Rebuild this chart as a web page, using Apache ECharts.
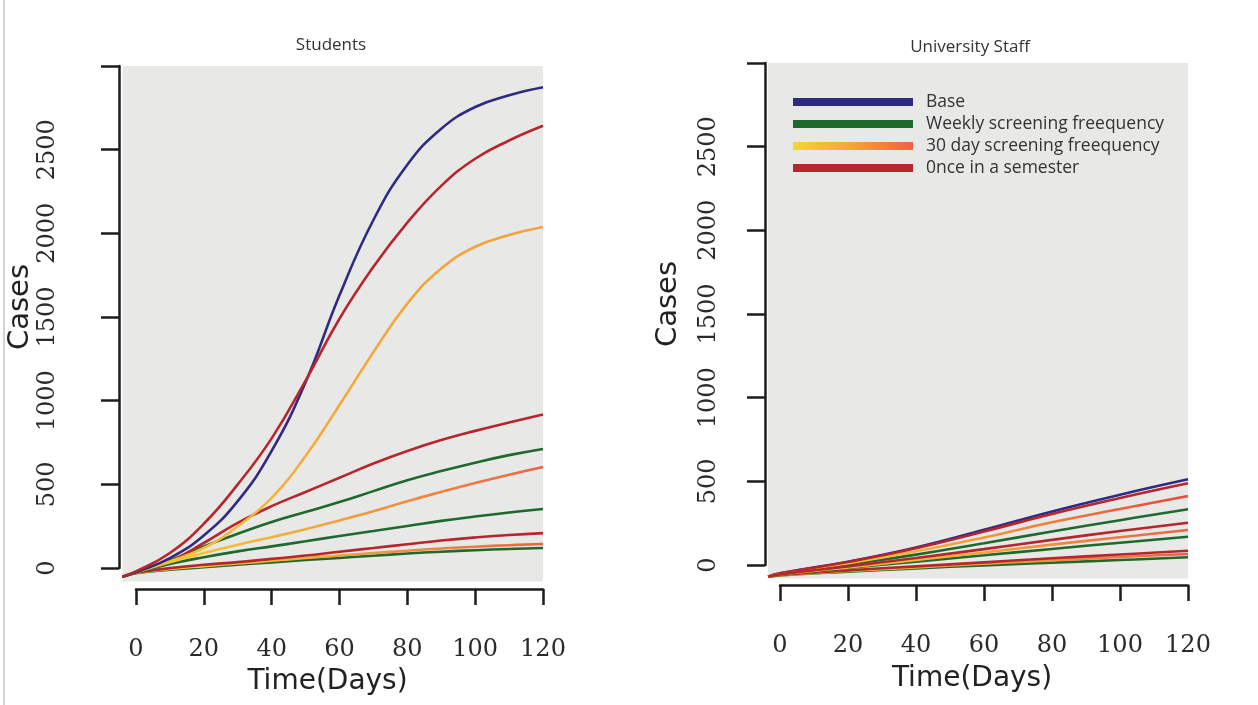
<!DOCTYPE html>
<html>
<head>
<meta charset="utf-8">
<script src="https://cdn.jsdelivr.net/npm/echarts@6/dist/echarts.min.js"></script>
<style>
  html, body { margin: 0; background: #fff; }
  #chart { width: 1258px; height: 705px; }
</style>
</head>
<body>
<div id="chart"></div>
<script>
// ---- data ----
const legendNames = ["Base", "Weekly screening freequency", "30 day screening freequency", "0nce in a semester"];
const yTickLabels = ["0", "500", "1000", "1500", "2000", "2500"];

// Students panel
const studentDays = [-4, 0, 10, 20, 30, 40, 50, 60, 70, 80, 90, 100, 110, 120];
const stuBase = [-52, -25, 60, 195, 400, 700, 1110, 1630, 2080, 2410, 2625, 2755, 2825, 2873];
const stuOnceHigh = [-52, -20, 90, 265, 500, 775, 1120, 1490, 1800, 2064, 2284, 2446, 2555, 2643];
const stu30High = [-52, -25, 40, 120, 250, 420, 670, 975, 1290, 1580, 1790, 1920, 1990, 2038];
const stuOnceMid = [-52, -25, 40, 150, 270, 370, 455, 540, 625, 700, 765, 820, 870, 918];
const stuWeeklyHigh = [-52, -25, 45, 130, 205, 275, 335, 395, 460, 525, 580, 630, 675, 712];
const stu30Mid = [-52, -26, 35, 90, 140, 185, 232, 285, 340, 400, 455, 508, 558, 604];
const stuWeeklyMid = [-52, -27, 25, 65, 100, 130, 160, 192, 222, 252, 282, 308, 332, 353];
const stuOnceLow = [-52, -28, 0, 20, 36, 55, 75, 98, 120, 143, 165, 183, 198, 209];
const stu30Low = [-52, -29, -5, 12, 28, 44, 60, 75, 90, 104, 117, 128, 137, 144];
const stuWeeklyLow = [-52, -30, -10, 5, 20, 34, 48, 61, 74, 87, 98, 107, 114, 120];

// University staff panel
const staffDays = [-3.5, 0, 20, 40, 60, 80, 100, 120];
const stfBase = [-70, -50, 20, 105, 210, 320, 420, 512];
const stfOnceHigh = [-70, -50, 18, 100, 200, 305, 400, 488];
const stf30High = [-70, -52, 10, 82, 165, 255, 335, 412];
const stfWeeklyHigh = [-70, -54, 2, 62, 130, 200, 268, 333];
const stfOnceMid = [-70, -56, -8, 42, 95, 150, 203, 253];
const stf30Mid = [-70, -57, -14, 30, 75, 122, 166, 209];
const stfWeeklyMid = [-70, -58, -18, 20, 58, 96, 133, 169];
const stfOnceLow = [-70, -60, -32, -8, 16, 40, 63, 85];
const stf30Low = [-70, -61, -36, -14, 8, 28, 48, 66];
const stfWeeklyLow = [-70, -62, -40, -20, -2, 14, 30, 46];

// ---- styles ----
const purple = "#2f2a82";
const red = "#b5262d";
const green = "#1e6a2c";
const grad = (stops) => new echarts.graphic.LinearGradient(0, 0, 1, 0,
  stops.map((c, i) => ({ offset: i / (stops.length - 1), color: c })));
const orangeHigh = () => grad(["#f6c935", "#f2aa3c", "#f0a23e"]);
const orangeMix = () => grad(["#f7d52e", "#f1a43c", "#ea6246"]);
const legendOrange = () => grad(["#fbe42a", "#f39a3a", "#e8473a"]);

const serif = "DejaVu Serif";
const sans = "DejaVu Sans";
const axisColor = "#1c1c1c";

function line(name, grid, days, values, color) {
  return {
    type: "line",
    name: name,
    xAxisIndex: grid,
    yAxisIndex: grid,
    data: days.map((d, i) => [d, values[i]]),
    smooth: 0.45,
    showSymbol: false,
    silent: true,
    color: color,
    itemStyle: { color: color },
    lineStyle: { color: color, width: 2.6 },
  };
}

// data grid (gray), y axis grid, x axis grid for each panel
function panelAxes(xMin, yGap, xGap, yMargin, xMargin) {
  const hidden = { show: false };
  const xs = [
    { gridIndex: 0, type: "value", min: xMin, max: 120, show: false },
    { gridIndex: 1, type: "value", min: 0, max: 120, show: false },
    {
      gridIndex: 2, type: "value", min: 0, max: 120, interval: 20,
      name: "Time(Days)", nameLocation: "middle", nameGap: xGap,
      nameTextStyle: { fontFamily: sans, fontSize: 28, color: "#222", padding: [0, 24, 0, 0] },
      axisLine: { show: true, lineStyle: { color: axisColor, width: 2.5 } },
      axisTick: { show: true, length: 16, lineStyle: { color: axisColor, width: 2.5 } },
      axisLabel: { fontFamily: serif, fontSize: 24, color: "#2a2a2a", margin: xMargin },
      splitLine: hidden,
    },
  ];
  const ys = [
    { gridIndex: 0, type: "value", min: -80, max: 3000, show: false },
    {
      gridIndex: 1, type: "value", min: 0, max: 3000, interval: 500,
      name: "Cases", nameLocation: "middle", nameGap: yGap,
      nameTextStyle: { fontFamily: sans, fontSize: 29, color: "#222", padding: [0, 0, 0, 20] },
      axisLine: { show: true, lineStyle: { color: axisColor, width: 2.5 } },
      axisTick: { show: true, length: 18, lineStyle: { color: axisColor, width: 2.5 } },
      axisLabel: {
        fontFamily: serif, fontSize: 24, color: "#2a2a2a", rotate: 90, margin: yMargin,
        formatter: (v) => yTickLabels[v / 500] || "",
      },
      splitLine: hidden,
    },
    { gridIndex: 2, type: "value", min: 0, max: 3000, show: false },
  ];
  return { xs, ys };
}

const leftAxes = panelAxes(-4, 80, 79, 59, 49);
const rightAxes = panelAxes(-3.5, 82, 80, 44, 49);
const shift = (arr, k) => arr.map((a) => Object.assign({}, a, { gridIndex: a.gridIndex + k }));

const gray = "#e8e8e7";
const titleStyle = { fontFamily: "Open Sans", fontSize: 17, fontWeight: "normal", color: "#333" };
const option = {
  animation: false,
  backgroundColor: "#fff",
  title: [
    { text: "Students", left: 326, top: 32, textAlign: "center", textStyle: titleStyle },
    { text: "University Staff", left: 965, top: 34, textAlign: "center", textStyle: titleStyle },
  ],
  legend: {
    left: 788, top: 88, orient: "vertical",
    icon: "rect", itemWidth: 120, itemHeight: 8, itemGap: 4,
    textStyle: { fontFamily: "Open Sans", fontSize: 17.5, color: "#333", lineHeight: 18, padding: [0, 0, 0, 8] },
    data: legendNames,
    selectedMode: false,
  },
  grid: [
    { left: 122.4, top: 66, width: 420.6, height: 515.5, show: true, backgroundColor: gray, borderWidth: 0 },
    { left: 119, top: 66, width: 424, height: 502 },
    { left: 136, top: 66, width: 407, height: 523 },
    { left: 768.1, top: 63, width: 419.9, height: 515.4, show: true, backgroundColor: gray, borderWidth: 0 },
    { left: 765, top: 63, width: 423, height: 502 },
    { left: 780, top: 63, width: 408, height: 522 },
  ],
  xAxis: leftAxes.xs.concat(shift(rightAxes.xs, 3)),
  yAxis: leftAxes.ys.concat(shift(rightAxes.ys, 3)),
  graphic: [
    { type: "line", shape: { x1: 4, y1: 0, x2: 4, y2: 705 }, style: { stroke: "#c4c4c4", lineWidth: 1.5 } },
  ],
  series: [
    line(legendNames[1], 0, studentDays, stuWeeklyLow, green),
    line(legendNames[2], 0, studentDays, stu30Low, orangeMix()),
    line(legendNames[3], 0, studentDays, stuOnceLow, red),
    line(legendNames[1], 0, studentDays, stuWeeklyMid, green),
    line(legendNames[2], 0, studentDays, stu30Mid, orangeMix()),
    line(legendNames[1], 0, studentDays, stuWeeklyHigh, green),
    line(legendNames[3], 0, studentDays, stuOnceMid, red),
    line(legendNames[2], 0, studentDays, stu30High, orangeHigh()),
    line(legendNames[0], 0, studentDays, stuBase, purple),
    line(legendNames[3], 0, studentDays, stuOnceHigh, red),

    line(legendNames[0], 3, staffDays, stfBase, purple),
    line(legendNames[1], 3, staffDays, stfWeeklyHigh, green),
    line(legendNames[2], 3, staffDays, stf30High, legendOrange()),
    line(legendNames[3], 3, staffDays, stfOnceHigh, red),
    line(legendNames[1], 3, staffDays, stfWeeklyLow, green),
    line(legendNames[2], 3, staffDays, stf30Low, orangeMix()),
    line(legendNames[3], 3, staffDays, stfOnceLow, red),
    line(legendNames[1], 3, staffDays, stfWeeklyMid, green),
    line(legendNames[2], 3, staffDays, stf30Mid, orangeMix()),
    line(legendNames[3], 3, staffDays, stfOnceMid, red),
  ],
};

const chart = echarts.init(document.getElementById("chart"));
chart.setOption(option);
</script>
</body>
</html>
